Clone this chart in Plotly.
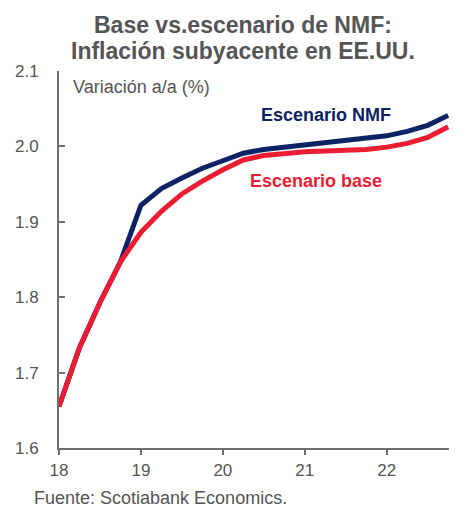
import plotly.graph_objects as go

quarters = [18.0, 18.25, 18.5, 18.75, 19.0, 19.25, 19.5, 19.75, 20.0, 20.25,
            20.5, 20.75, 21.0, 21.25, 21.5, 21.75, 22.0, 22.25, 22.5, 22.75]
nmf = [1.655, 1.733, 1.793, 1.847, 1.922, 1.944, 1.958, 1.971, 1.981, 1.991,
       1.996, 1.999, 2.002, 2.004, 2.007, 2.010, 2.014, 2.020, 2.028, 2.041]
base = [1.655, 1.733, 1.793, 1.847, 1.886, 1.914, 1.937, 1.954, 1.969, 1.982,
        1.988, 1.991, 1.993, 1.994, 1.995, 1.996, 1.999, 2.004, 2.012, 2.026]
x_ticks = [18, 19, 20, 21, 22]
y_ticks = [1.6, 1.7, 1.8, 1.9, 2.0, 2.1]

NAVY = "#0b2265"
RED = "#ec1c32"
GREY = "#555555"
AXIS = "#707070"
FONT = "Liberation Sans, Arial, sans-serif"

# page body has an 8px margin, so the figure is sized/offset accordingly
W, H = 458, 501
L, R, T, B = 51, 17, 63, 61
PW, PH = W - L - R, H - T - B


def px(x):
    return (x - L) / PW


def py(y):
    return (H - B - y) / PH


fig = go.Figure()
fig.add_trace(go.Scatter(x=quarters, y=nmf, mode="lines", name="Escenario NMF",
                         line=dict(color=NAVY, width=5)))
fig.add_trace(go.Scatter(x=quarters, y=base, mode="lines", name="Escenario base",
                         line=dict(color=RED, width=5)))

fig.update_layout(
    width=W, height=H,
    margin=dict(l=L, r=R, t=T, b=B, autoexpand=False),
    paper_bgcolor="white", plot_bgcolor="white",
    showlegend=False,
    font=dict(family=FONT, color=GREY, size=17),
    xaxis=dict(range=[18, 22.76], tickvals=x_ticks, ticktext=[str(v) for v in x_ticks],
               showgrid=False, zeroline=False, showline=True, linecolor=AXIS, linewidth=2,
               ticks="outside", ticklen=5, tickwidth=2, tickcolor=AXIS,
               ticklabelstandoff=1,
               tickfont=dict(size=17, color=GREY)),
    yaxis=dict(range=[1.6, 2.1], tickvals=y_ticks, ticktext=[f"{v:.1f}" for v in y_ticks],
               showgrid=False, zeroline=False, showline=True, linecolor=AXIS, linewidth=2,
               ticks="inside", ticklen=6, tickwidth=2, tickcolor=AXIS,
               ticklabelstandoff=15,
               tickfont=dict(size=17, color=GREY)),
    annotations=[
        dict(text="<b>Base vs.escenario de NMF:</b>", x=px(235), y=py(17),
             xref="paper", yref="paper", xanchor="center", yanchor="middle",
             showarrow=False, font=dict(size=23, color=GREY)),
        dict(text="<b>Inflación subyacente en EE.UU.</b>", x=px(235), y=py(43),
             xref="paper", yref="paper", xanchor="center", yanchor="middle",
             showarrow=False, font=dict(size=23, color=GREY)),
        dict(text="Variación a/a (%)", x=px(63), y=py(79),
             xref="paper", yref="paper", xanchor="left", yanchor="middle",
             showarrow=False, font=dict(size=18, color=GREY)),
        dict(text="<b>Escenario NMF</b>", x=21.26, y=2.041, xref="x", yref="y",
             xanchor="center", yanchor="middle",
             showarrow=False, font=dict(size=18, color=NAVY)),
        dict(text="<b>Escenario base</b>", x=21.14, y=1.9535, xref="x", yref="y",
             xanchor="center", yanchor="middle",
             showarrow=False, font=dict(size=18, color=RED)),
        dict(text="Fuente: Scotiabank Economics.", x=px(24), y=py(490),
             xref="paper", yref="paper", xanchor="left", yanchor="middle",
             showarrow=False, font=dict(size=18, color=GREY)),
    ],
)

fig.write_html("out.html")
